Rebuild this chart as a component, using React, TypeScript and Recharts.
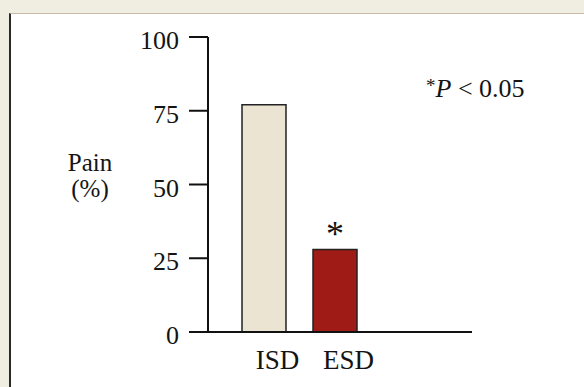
import React from 'react';
import { BarChart, Bar, XAxis, YAxis, Cell, LabelList, Customized } from 'recharts';

const categories = ['ISD', 'ESD'];
const painPercent = [77, 28];
const significance = ['', '*'];
const yTicks = [0, 25, 50, 75, 100];
const barColors = ['#ece4d2', '#9f1c16'];

const data = categories.map((c, i) => ({ name: c, pain: painPercent[i], sig: significance[i] }));

const FONT = '"Liberation Serif", "DejaVu Serif", serif';
const INK = '#141414';

const YTick = (props: any) => {
  const { x, y, payload } = props;
  return (
    <text x={x} y={y} dy={12} textAnchor="end" fontFamily={FONT} fontSize={26} fill={INK}>
      {payload.value}
    </text>
  );
};

const XTick = (props: any) => {
  const { x, y, payload } = props;
  return (
    <text x={x + 14} y={y} dy={29} textAnchor="middle" fontFamily={FONT} fontSize={27} fill={INK}>
      {payload.value}
    </text>
  );
};

const YLabel = () => (
  <g fontFamily={FONT} fontSize={25} fill={INK}>
    <text x={90} y={171} textAnchor="middle">Pain</text>
    <text x={90} y={197} textAnchor="middle">(%)</text>
  </g>
);

const Note = () => (
  <text x={426} y={97} fontFamily={FONT} fontSize={26} fill={INK}>
    <tspan fontSize={19} dy={-5}>*</tspan>
    <tspan fontStyle="italic" dy={5}>P</tspan>
    <tspan>{' < 0.05'}</tspan>
  </text>
);

const SigLabel = (props: any) => {
  const { x, y, width, value } = props;
  if (!value) return null;
  return (
    <text x={x + width / 2} y={y - 3} textAnchor="middle" fontFamily={FONT} fontSize={36} fill={INK}>
      {value}
    </text>
  );
};

export default function App() {
  return (
    <div style={{ position: 'absolute', left: 0, top: 0, width: 584, height: 387, background: '#f0eee1', overflow: 'hidden' }}>
      <div style={{ position: 'absolute', left: 9, top: 13, width: 575, height: 374, background: '#ffffff', borderLeft: '2px solid #2a2a2a', borderTop: '1px solid #c9b8a8' }} />
      <div style={{ position: 'absolute', left: 0, top: 0 }}>
        <BarChart width={584} height={387} data={data} margin={{ top: 37, right: 112, bottom: 0, left: 0 }}>
          <XAxis
            dataKey="name"
            height={55}
            padding={{ left: 20, right: 102 }}
            axisLine={{ stroke: '#111', strokeWidth: 2 }}
            tickLine={false}
            tick={<XTick />}
            interval={0}
          />
          <YAxis
            width={208}
            domain={[0, 100]}
            ticks={yTicks}
            axisLine={{ stroke: '#111', strokeWidth: 2 }}
            tickLine={{ stroke: '#111', strokeWidth: 2 }}
            tickSize={19}
            tickMargin={10}
            tick={<YTick />}
            interval={0}
          />
          <Bar dataKey="pain" barSize={44} stroke="#222" strokeWidth={1.5} isAnimationActive={false}>
            {data.map((d, i) => (
              <Cell key={d.name} fill={barColors[i]} />
            ))}
            <LabelList dataKey="sig" content={<SigLabel />} />
          </Bar>
          <Customized component={YLabel} />
          <Customized component={Note} />
        </BarChart>
      </div>
    </div>
  );
}
